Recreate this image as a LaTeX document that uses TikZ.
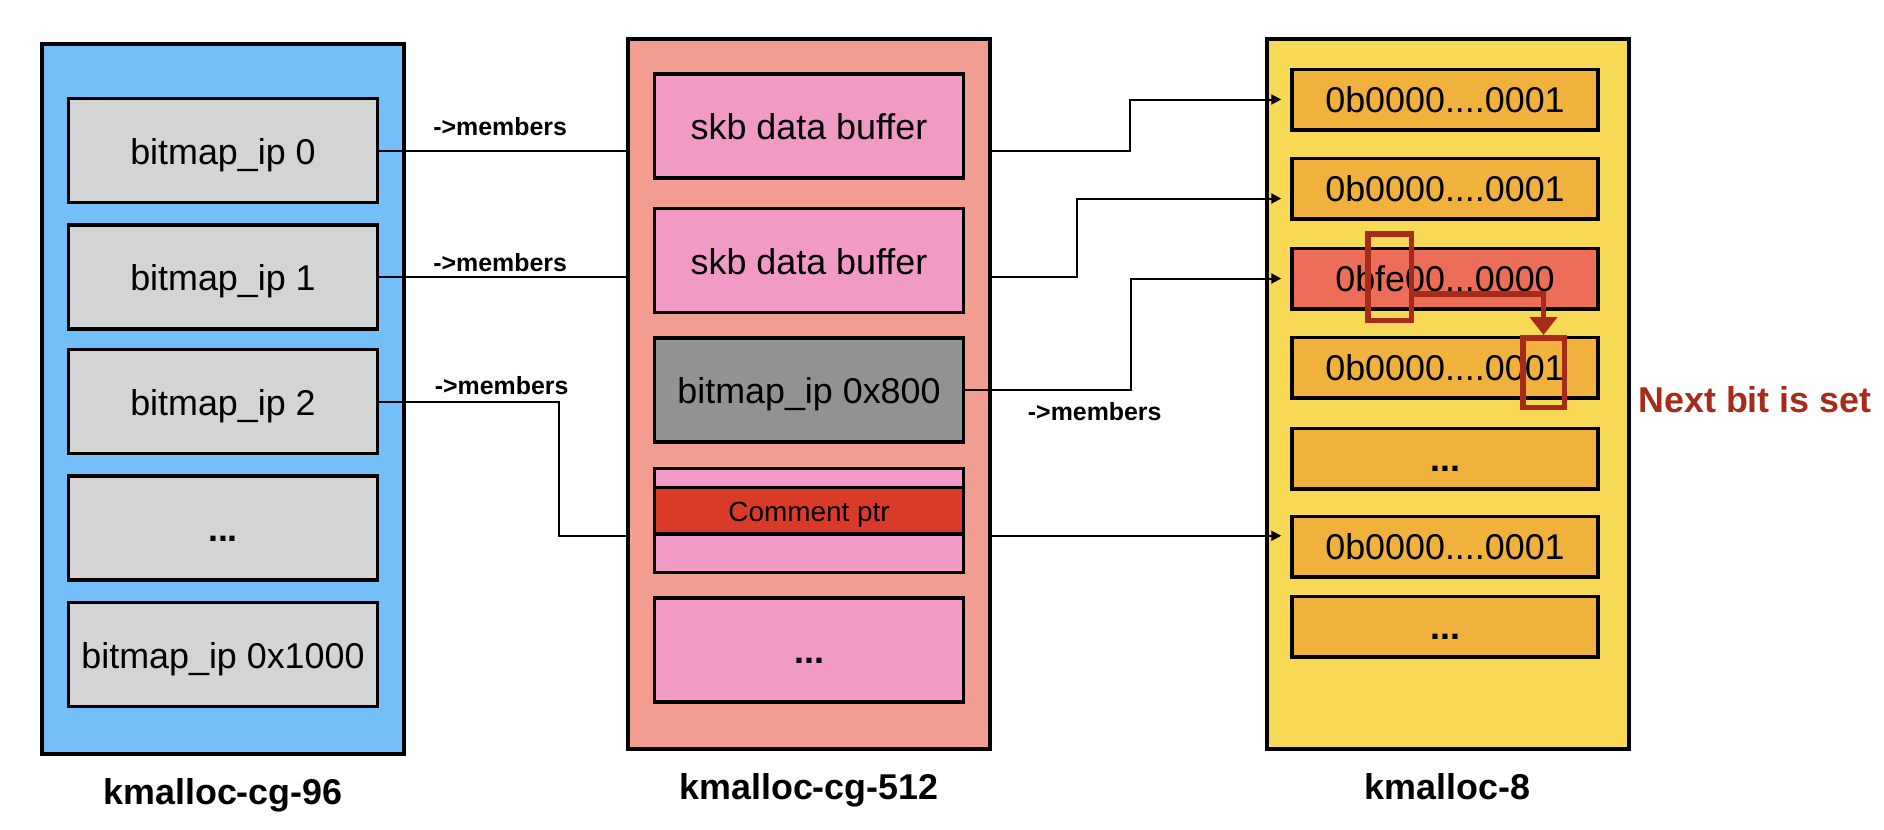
\documentclass[tikz,border=0pt]{standalone}
\usepackage{fontspec}
\setmainfont{Liberation Sans}
\usetikzlibrary{arrows.meta, positioning}

\definecolor{cacheblue}{RGB}{117,191,249}
\definecolor{cachesalmon}{RGB}{241,157,146}
\definecolor{cacheyellow}{RGB}{248,217,86}
\definecolor{slotgray}{RGB}{212,212,212}
\definecolor{ipgray}{RGB}{146,146,146}
\definecolor{skbpink}{RGB}{241,154,198}
\definecolor{ptrred}{RGB}{218,59,40}
\definecolor{wordorange}{RGB}{240,177,61}
\definecolor{wordred}{RGB}{236,109,88}
\definecolor{hlred}{RGB}{166,43,26}

\begin{document}
\begin{tikzpicture}[x=1bp, y=-1bp,
		cache/.style={rectangle, draw=black, line width=4bp, inner sep=0pt, minimum width=362bp, minimum height=710bp},
		slot/.style={rectangle, draw=black, line width=3.5bp, inner sep=0pt, minimum width=309bp, minimum height=104bp, text height=34bp, text depth=7bp, font=\fontsize{36}{40}\selectfont},
		word/.style={slot, fill=wordorange, minimum width=306bp, minimum height=60.5bp, text height=32bp},
		dots/.style={font=\bfseries\fontsize{36}{40}\selectfont},
		cachename/.style={inner sep=0pt, font=\bfseries\fontsize{36}{40}\selectfont},
		member/.style={inner sep=0pt, font=\bfseries\fontsize{25}{30}\selectfont},
		link/.style={line width=2bp},
		ptr/.style={link, -{Triangle[length=10bp, width=10bp]}, shorten >=9bp},
		hilite/.style={rectangle, draw=hlred, line width=5.5bp, inner sep=0pt}
		]
		\useasboundingbox (0,0) rectangle (1884,830);

		% the three caches
		\node [cache, fill=cacheblue] (cg96) at (223,399) {};
		\node [cache, fill=cachesalmon] (cg512) at (809,394) {};
		\node [cache, fill=cacheyellow] (km8) at (1447.5,394) {};

		\node [cachename, below=22bp of cg96] (n96) {kmalloc-cg-96};
		\node [cachename, below=22bp of cg512] (n512) {kmalloc-cg-512};
		\node [cachename, below=22bp of km8] (n8) {kmalloc-8};

		% kmalloc-cg-96
		\node [slot, fill=slotgray] (ip0) at (223,150.5) {bitmap\_ip 0};
		\node [slot, fill=slotgray] (ip1) [below=19bp of ip0] {bitmap\_ip 1};
		\node [slot, fill=slotgray] (ip2) [below=17bp of ip1] {bitmap\_ip 2};
		\node [slot, fill=slotgray, dots] (ipdots) [below=19bp of ip2] {...};
		\node [slot, fill=slotgray] (ip1000) [below=19bp of ipdots] {bitmap\_ip 0x1000};

		% kmalloc-cg-512
		\node [slot, fill=skbpink] (skb1) at (809,126) {skb data buffer};
		\node [slot, fill=skbpink] (skb2) [below=27bp of skb1] {skb data buffer};
		\node [slot, fill=ipgray] (ip800) [below=22bp of skb2] {bitmap\_ip 0x800};
		\node [slot, fill=skbpink] (cbox) [below=23bp of ip800] {};
		\node [slot, fill=ptrred, minimum height=46.5bp, text height=28bp, text depth=6bp, font=\fontsize{28}{32}\selectfont] (cptr) [below=19bp of cbox.north] {Comment ptr};
		\node [slot, fill=skbpink, dots] (pdots) [below=22bp of cbox] {...};

		% kmalloc-8
		\node [word] (b1) at (1445,99.5) {0b0000....0001};
		\node [word] (b2) [below=25bp of b1] {0b0000....0001};
		\node [word, fill=wordred] (b3) [below=26bp of b2] {0bfe00...0000};
		\node [word] (b4) [below=25bp of b3] {0b0000....0001};
		\node [word, dots] (b5) [below=27bp of b4] {...};
		\node [word] (b6) [below=24bp of b5] {0b0000....0001};
		\node [word, dots] (b7) [below=16bp of b6] {...};

		% pointers
		\draw [link] (ip0.east) -- (ip0.east -| cg512.west) node [member, pos=0.49, above=14bp] {->members};
		\draw [link] (ip1.east) -- (ip1.east -| cg512.west) node [member, pos=0.49, above=4bp] {->members};
		\draw [link] (ip2.east) -- ++(180,0) node [member, pos=0.68, above=6bp] {->members} |- (cg512.west |- cptr.south);

		\draw [ptr] (cg512.east |- ip0.east) -- ++(138,0) |- (b1.west);
		\draw [ptr] (cg512.east |- ip1.east) -- ++(85,0) |- ([yshift=-10bp]b2.west);
		\draw [ptr] (ip800.east) -- ++(166,0) node [member, pos=0.78, below=11bp] {->members} |- (b3.west);
		\draw [ptr] (cg512.east |- cptr.south) -- (b6.west |- cptr.south);

		% next bit
		\node [hilite, minimum width=43.5bp, minimum height=86.5bp] (hl1) at (1389.5,277) {};
		\node [hilite, minimum width=41.5bp, minimum height=69.5bp] (hl2) at (1543.5,372.5) {};
		\draw [hlred, line width=5.5bp, -{Triangle[length=18bp, width=27bp]}] ([yshift=-17bp]hl1.east) -| (hl2.north);
		\node [member, text=hlred, font=\bfseries\fontsize{36}{40}\selectfont] (nextbit) at (1755,400) {Next bit is set};
	\end{tikzpicture}
\end{document}
